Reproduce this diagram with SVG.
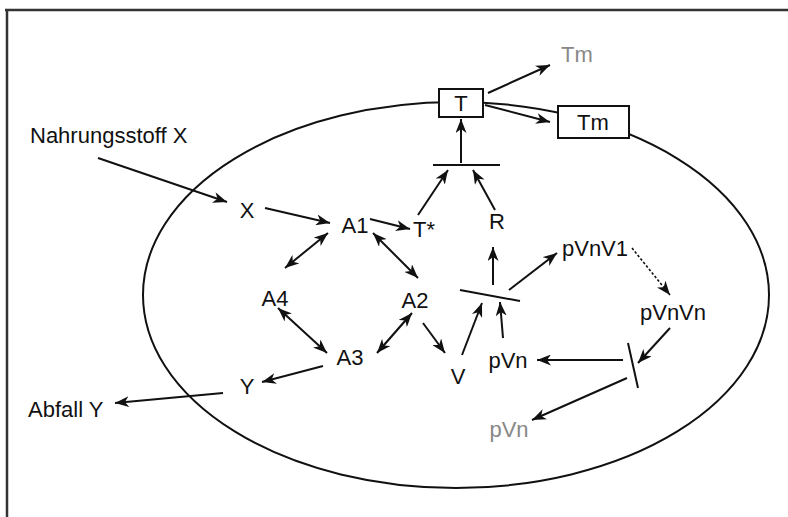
<svg xmlns="http://www.w3.org/2000/svg" width="788" height="517" viewBox="0 0 788 517">
<defs>
<marker id="ah" markerUnits="userSpaceOnUse" markerWidth="15" markerHeight="11" refX="14" refY="5.5" orient="auto-start-reverse">
<path d="M0,0 L14,5.5 L0,11 L4,5.5 z" fill="#111"/>
</marker>
</defs>
<style>
.t{font-family:"Liberation Sans",Arial,sans-serif;font-size:22px;fill:#111;text-anchor:middle}
.g{fill:#888}
.s{text-anchor:start}
.c line,.c path{stroke:#111;stroke-width:2;fill:none}
.a{marker-end:url(#ah)}
.d{marker-start:url(#ah);marker-end:url(#ah)}
.bx{fill:#fff;stroke:#111;stroke-width:2}
</style>
<rect width="788" height="517" fill="#fff"/>
<g id="frame" stroke="#333" stroke-width="2.5">
<line x1="5" y1="10" x2="788" y2="10"/>
<line x1="7" y1="10" x2="7" y2="517"/>
</g>
<g id="cell"><ellipse cx="456" cy="295" rx="313" ry="193" fill="none" stroke="#111" stroke-width="2"/></g>
<g class="c" id="connectors">
<line class="a" x1="98" y1="158" x2="227" y2="202"/>
<line class="a" x1="265" y1="208" x2="330" y2="223"/>
<line class="a" x1="370" y1="219" x2="410" y2="229"/>
<line class="a" x1="418" y1="215" x2="448" y2="170"/>
<line class="a" x1="495" y1="210" x2="473" y2="170"/>
<line class="a" x1="461" y1="163" x2="461" y2="119"/>
<line class="a" x1="488" y1="93" x2="550" y2="65"/>
<line class="a" x1="485" y1="105" x2="550" y2="122"/>
<line class="d" x1="328" y1="233" x2="285" y2="268"/>
<line class="d" x1="373" y1="233" x2="418" y2="278"/>
<line class="d" x1="278" y1="308" x2="327" y2="353"/>
<line class="d" x1="412" y1="313" x2="377" y2="353"/>
<line class="a" x1="423" y1="323" x2="445" y2="353"/>
<line class="a" x1="462" y1="355" x2="482" y2="303"/>
<line class="a" x1="503" y1="338" x2="500" y2="302"/>
<line class="a" x1="493" y1="285" x2="493" y2="247"/>
<line class="a" x1="509" y1="290" x2="557" y2="253"/>
<line class="a" x1="632" y1="248" x2="670" y2="295" style="stroke-dasharray:2.5 2;stroke-width:1.6"/>
<line class="a" x1="670" y1="328" x2="638" y2="363"/>
<line class="a" x1="623" y1="360" x2="537" y2="360"/>
<line class="a" x1="627" y1="378" x2="532" y2="420"/>
<line class="a" x1="323" y1="366" x2="262" y2="382"/>
<line class="a" x1="223" y1="393" x2="115" y2="403"/>
<line x1="433" y1="165" x2="500" y2="165"/>
<line x1="460" y1="290" x2="520" y2="301"/>
<line x1="628" y1="343" x2="638" y2="388"/>
</g>
<g id="n-T"><rect class="bx" x="439" y="89" width="44" height="28"/><text class="t" x="461" y="110.5">T</text></g>
<g id="n-Tm-box"><rect class="bx" x="558" y="106" width="71" height="32"/><text class="t" x="593" y="129.5">Tm</text></g>
<g id="n-Tm-out"><text class="t g" x="577" y="62">Tm</text></g>
<g id="n-nahrung"><text class="t s" x="30" y="143">Nahrungsstoff X</text></g>
<g id="n-X"><text class="t" x="247" y="217.5">X</text></g>
<g id="n-A1"><text class="t" x="355" y="232.5">A1</text></g>
<g id="n-Tstar"><text class="t" x="424" y="237">T*</text></g>
<g id="n-R"><text class="t" x="497" y="228.5">R</text></g>
<g id="n-pVnV1"><text class="t" x="595" y="256">pVnV1</text></g>
<g id="n-A4"><text class="t" x="275" y="305.5">A4</text></g>
<g id="n-A2"><text class="t" x="415" y="307.5">A2</text></g>
<g id="n-pVnVn"><text class="t" x="673" y="320">pVnVn</text></g>
<g id="n-A3"><text class="t" x="350" y="364.5">A3</text></g>
<g id="n-V"><text class="t" x="458" y="383.5">V</text></g>
<g id="n-pVn"><text class="t" x="508" y="368">pVn</text></g>
<g id="n-Y"><text class="t" x="247" y="394">Y</text></g>
<g id="n-abfall"><text class="t s" x="28" y="417">Abfall Y</text></g>
<g id="n-pVn-out"><text class="t g" x="509" y="437">pVn</text></g>
</svg>
